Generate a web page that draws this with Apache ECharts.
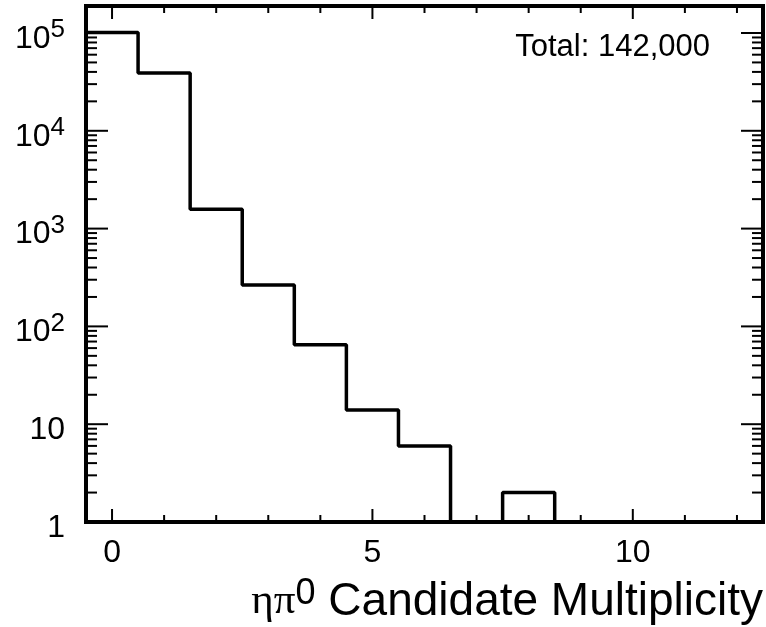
<!DOCTYPE html>
<html>
<head>
<meta charset="utf-8">
<script src="https://cdn.jsdelivr.net/npm/echarts@6/dist/echarts.min.js"></script>
<style>
html,body{margin:0;padding:0;background:#fff;}
#chart{width:766px;height:627px;}
</style>
</head>
<body>
<div id="chart"></div>
<script>
// ---- data ----
const binCenters = [0, 1, 2, 3, 4, 5, 6, 7, 8, 9, 10, 11, 12];
const binCounts  = [101000, 39000, 1580, 265, 65, 14, 6, 0, 2, 0, 0, 0, 0];
const xTickLabels = [0, 5, 10];
const yDecades = [0, 1, 2, 3, 4, 5];
const totalText = 'Total: 142,000';

// ---- build step outline (log10 space) ----
const yMin = 0, yMax = 5.276;
const stepPts = [];
binCenters.forEach((c, i) => {
  const v = Math.log10(Math.max(binCounts[i], 1));
  stepPts.push([c - 0.5, v]);
  stepPts.push([c + 0.5, v]);
});

const FONT = '"Liberation Sans", Arial, sans-serif';
const chart = echarts.init(document.getElementById('chart'), null, {renderer: 'canvas'});

function tickRender(params, api) {
  if (params.dataIndex > 0) return null;
  const cs = params.coordSys;
  const left = cs.x, right = cs.x + cs.width, top = cs.y, bottom = cs.y + cs.height;
  const kids = [];
  const st = {stroke: '#000', lineWidth: 2};
  // x ticks
  for (let i = 0; i <= 12; i++) {
    const px = api.coord([i, yMin])[0];
    const len = (i % 5 === 0) ? 13 : 7;
    kids.push({type: 'line', shape: {x1: px, y1: bottom, x2: px, y2: bottom - len}, style: st});
    kids.push({type: 'line', shape: {x1: px, y1: top, x2: px, y2: top + len}, style: st});
  }
  // y ticks
  yDecades.forEach(d => {
    const py = api.coord([0, d])[1];
    kids.push({type: 'line', shape: {x1: left, y1: py, x2: left + 22, y2: py}, style: st});
    kids.push({type: 'line', shape: {x1: right, y1: py, x2: right - 22, y2: py}, style: st});
    for (let k = 2; k <= 9; k++) {
      const lv = d + Math.log10(k);
      if (lv >= yMax) continue;
      const qy = api.coord([0, lv])[1];
      kids.push({type: 'line', shape: {x1: left, y1: qy, x2: left + 11, y2: qy}, style: st});
      kids.push({type: 'line', shape: {x1: right, y1: qy, x2: right - 11, y2: qy}, style: st});
    }
  });
  return {type: 'group', children: kids};
}

chart.setOption({
  animation: false,
  backgroundColor: '#fff',
  grid: {left: 86, right: 2, top: 6, bottom: 105, show: true, borderColor: '#000', borderWidth: 4, backgroundColor: 'transparent'},
  xAxis: {
    type: 'value', min: -0.5, max: 12.5, interval: 0.5,
    axisLine: {show: false}, axisTick: {show: false}, splitLine: {show: false},
    axisLabel: {
      margin: 15, color: '#000', fontSize: 32, fontFamily: FONT,
      formatter: v => (xTickLabels.indexOf(v) >= 0 ? String(v) : '')
    }
  },
  yAxis: {
    type: 'value', min: yMin, max: yMax, interval: 1,
    axisLine: {show: false}, axisTick: {show: false}, splitLine: {show: false},
    axisLabel: {
      margin: 21, color: '#000', fontFamily: FONT, fontSize: 32,
      padding: [12, 0, 0, 0],
      formatter: v => {
        if (Math.abs(v - Math.round(v)) > 1e-9) return '';
        if (v === 0) return '{m|1}';
        if (v === 1) return '{m|10}';
        return '{m|10}{s|' + v + '}';
      },
      rich: {
        m: {fontSize: 32, fontFamily: FONT, color: '#000', lineHeight: 44},
        s: {fontSize: 26, fontFamily: FONT, color: '#000', verticalAlign: 'top', lineHeight: 44}
      }
    }
  },
  series: [
    {
      type: 'line', data: stepPts, showSymbol: false, symbol: 'none',
      lineStyle: {color: '#000', width: 3.5}, z: 3
    },
    {
      type: 'custom', data: [[0, 0]], renderItem: tickRender, z: 4, silent: true
    }
  ],
  graphic: [
    {type: 'text', right: 56, top: 32, style: {text: totalText, font: '31px ' + FONT, fill: '#000'}},
    {type: 'text', right: 3, top: 576, style: {
      text: '{g|ηπ}{s|0}{m| Candidate Multiplicity}',
      rich: {
        g: {fontSize: 43, fontFamily: '"Liberation Serif", "Times New Roman", serif', fill: '#000', lineHeight: 52},
        s: {fontSize: 36, fontFamily: FONT, fill: '#000', verticalAlign: 'top', lineHeight: 52},
        m: {fontSize: 46, fontFamily: FONT, fill: '#000', lineHeight: 52}
      }
    }}
  ]
});
</script>
</body>
</html>
